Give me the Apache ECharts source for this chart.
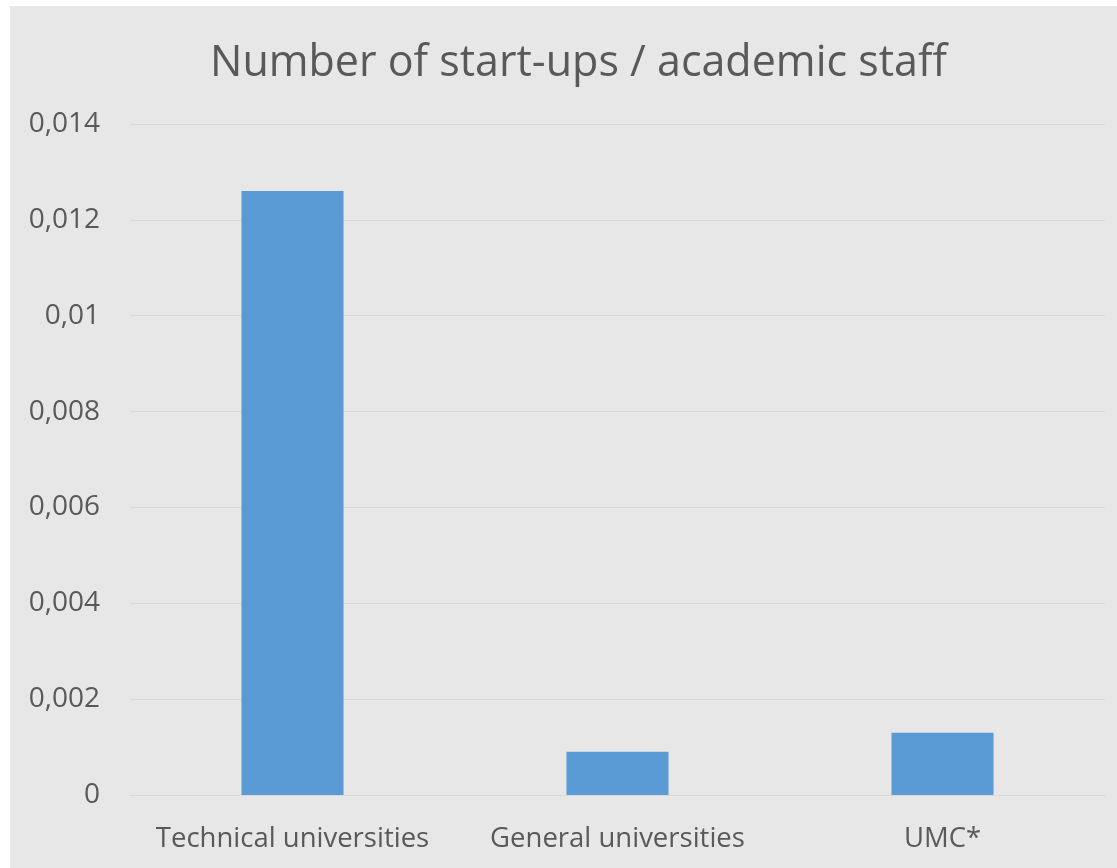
<!DOCTYPE html>
<html><head><meta charset="utf-8">
<script src="https://cdn.jsdelivr.net/npm/echarts@6/dist/echarts.min.js"></script>
<style>html,body{margin:0;padding:0;background:#fff}#c{width:1117px;height:868px}</style>
</head><body><div id="c"></div>
<script>
const categories = ['Technical universities', 'General universities', 'UMC*'];
const values = [0.0126, 0.0009, 0.0013];
const titleText = 'Number of start-ups / academic staff';
const chart = echarts.init(document.getElementById('c'));
const font = 'Open Sans, Calibri, sans-serif';
chart.setOption({
  backgroundColor: '#ffffff',
  animation: false,
  graphic: [{type:'rect', z:-10, silent:true, shape:{x:10,y:6,width:1107,height:862}, style:{fill:'#e7e7e7'}}],
  title: {text: titleText, left: 205, top: 37, textStyle:{fontFamily:font, fontSize:43, fontWeight:'normal', color:'#595959'}},
  grid: {left:130, right:12, top:124, bottom:73},
  xAxis: {type:'category', data: categories,
    axisLine:{show:true, lineStyle:{color:'#d9d9d9', width:1}}, axisTick:{show:false},
    axisLabel:{fontFamily:font, fontSize:27.5, color:'#595959', margin:30, interval:0, hideOverlap:false}},
  yAxis: {type:'value', min:0, max:0.014, interval:0.002,
    axisLine:{show:false}, axisTick:{show:false},
    splitLine:{lineStyle:{color:'#d9d9d9', width:1}},
    axisLabel:{fontFamily:font, fontSize:28, color:'#595959', margin:30,
      formatter: v => v === 0 ? '0' : String(parseFloat(v.toFixed(3))).replace('.', ',')}},
  series: [{type:'bar', data: values, barWidth:'31.4%', itemStyle:{color:'#5b9bd5'}}]
});
</script></body></html>
